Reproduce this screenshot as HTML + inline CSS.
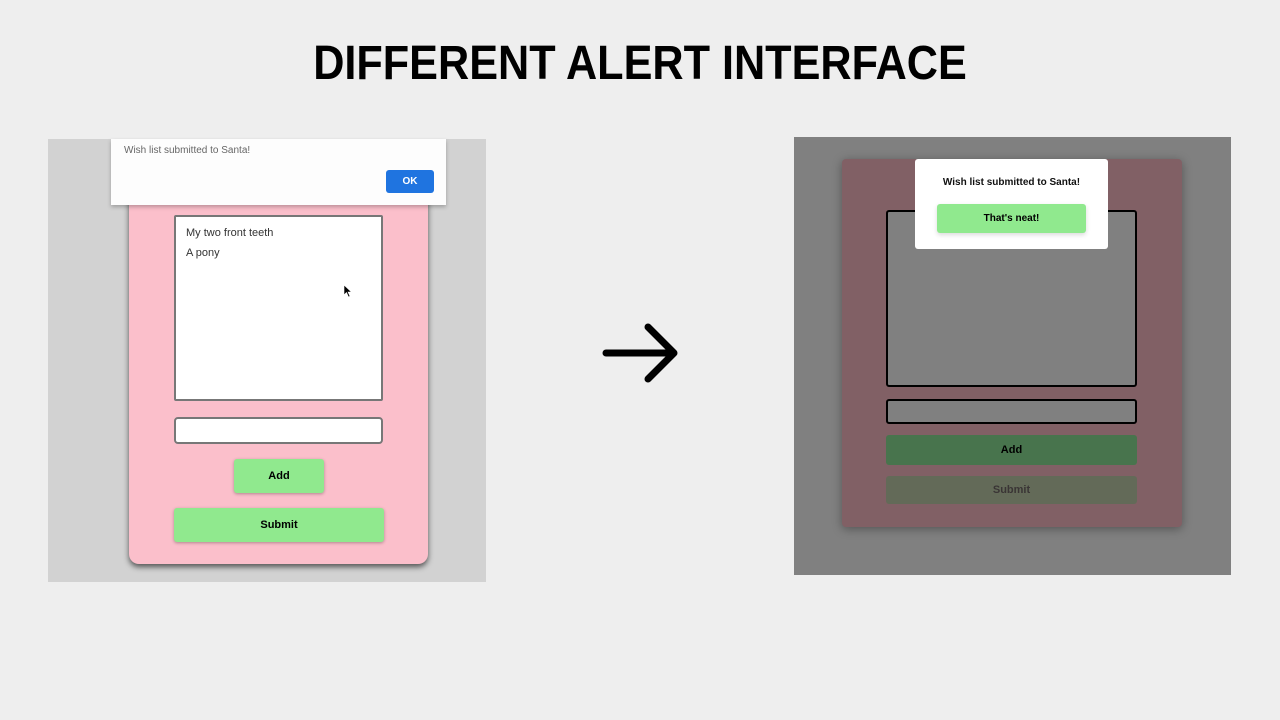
<!DOCTYPE html>
<html><head><style>
body{margin:0;width:1280px;height:720px;background:#eeeeee;position:relative;overflow:hidden;font-family:"Liberation Sans",sans-serif}
.a{position:absolute;box-sizing:border-box}
</style></head><body>
<div class="a" style="left:0;top:36px;width:1280px;text-align:center;font-size:48px;font-weight:bold;color:#000;transform:scaleX(0.9)">DIFFERENT ALERT INTERFACE</div>

<!-- left -->
<div class="a" style="left:48px;top:139px;width:438px;height:443px;background:#d2d2d2"></div>
<div class="a" style="left:129px;top:190px;width:299px;height:374px;background:#fbbfcb;border-radius:10px;box-shadow:0 3px 6px rgba(0,0,0,.6)"></div>
<div class="a" style="left:111px;top:139px;width:335px;height:66px;background:#fdfdfd;box-shadow:0 2px 4px rgba(0,0,0,.25)"></div>
<div class="a" style="left:124px;top:145px;font-size:10px;color:#666">Wish list submitted to Santa!</div>
<div class="a" style="left:386px;top:170px;width:48px;height:23px;background:#1f74e0;border-radius:3px;color:#fff;font-size:10px;font-weight:bold;text-align:center;line-height:23px">OK</div>
<div class="a" style="left:174px;top:215px;width:209px;height:186px;background:#fff;border:2px solid #777;border-radius:2px"></div>
<div class="a" style="left:186px;top:227px;font-size:11px;color:#333">My two front teeth</div>
<div class="a" style="left:186px;top:247px;font-size:11px;color:#333">A pony</div>
<svg class="a" style="left:343px;top:284px" width="10" height="14"><path d="M1 1L1 11L3.5 8.5L5.5 13L7 12.3L5 8L8.5 8Z" fill="#000" stroke="#fff" stroke-width="0.6"/></svg>
<div class="a" style="left:174px;top:417px;width:209px;height:27px;background:#fff;border:2px solid #777;border-radius:4px"></div>
<div class="a" style="left:234px;top:459px;width:90px;height:34px;background:#90e98e;border-radius:3px;box-shadow:0 1px 3px rgba(0,0,0,.3);font-size:11px;font-weight:bold;text-align:center;line-height:34px">Add</div>
<div class="a" style="left:174px;top:508px;width:210px;height:34px;background:#90e98e;border-radius:3px;box-shadow:0 1px 3px rgba(0,0,0,.3);font-size:11px;font-weight:bold;text-align:center;line-height:34px">Submit</div>

<!-- arrow -->
<svg class="a" style="left:600px;top:320px" width="90" height="66"><path d="M6 33H74M48 7L74 33L48 59" stroke="#000" stroke-width="7" fill="none" stroke-linecap="round" stroke-linejoin="round"/></svg>

<!-- right -->
<div class="a" style="left:794px;top:137px;width:437px;height:438px;background:#808080"></div>
<div class="a" style="left:842px;top:159px;width:340px;height:368px;background:#816065;border-radius:4px;box-shadow:0 2px 10px rgba(0,0,0,.35)"></div>
<div class="a" style="left:886px;top:210px;width:251px;height:177px;border:2px solid #000;border-radius:3px;background:#808080"></div>
<div class="a" style="left:886px;top:399px;width:251px;height:25px;border:2px solid #000;border-radius:3px;background:#808080"></div>
<div class="a" style="left:886px;top:435px;width:251px;height:30px;background:#48744d;border-radius:3px;font-size:11px;font-weight:bold;text-align:center;line-height:30px;color:#000">Add</div>
<div class="a" style="left:886px;top:476px;width:251px;height:28px;background:#636a58;border-radius:3px;font-size:11px;font-weight:bold;text-align:center;line-height:28px;color:#3a3535">Submit</div>
<div class="a" style="left:915px;top:159px;width:193px;height:90px;background:#fff;border-radius:3px"></div>
<div class="a" style="left:915px;top:177px;width:193px;text-align:center;font-size:10px;font-weight:bold;color:#111">Wish list submitted to Santa!</div>
<div class="a" style="left:937px;top:204px;width:149px;height:29px;background:#90e98e;border-radius:3px;box-shadow:0 2px 5px rgba(0,0,0,.15);font-size:10px;font-weight:bold;text-align:center;line-height:29px">That's neat!</div>
</body></html>
